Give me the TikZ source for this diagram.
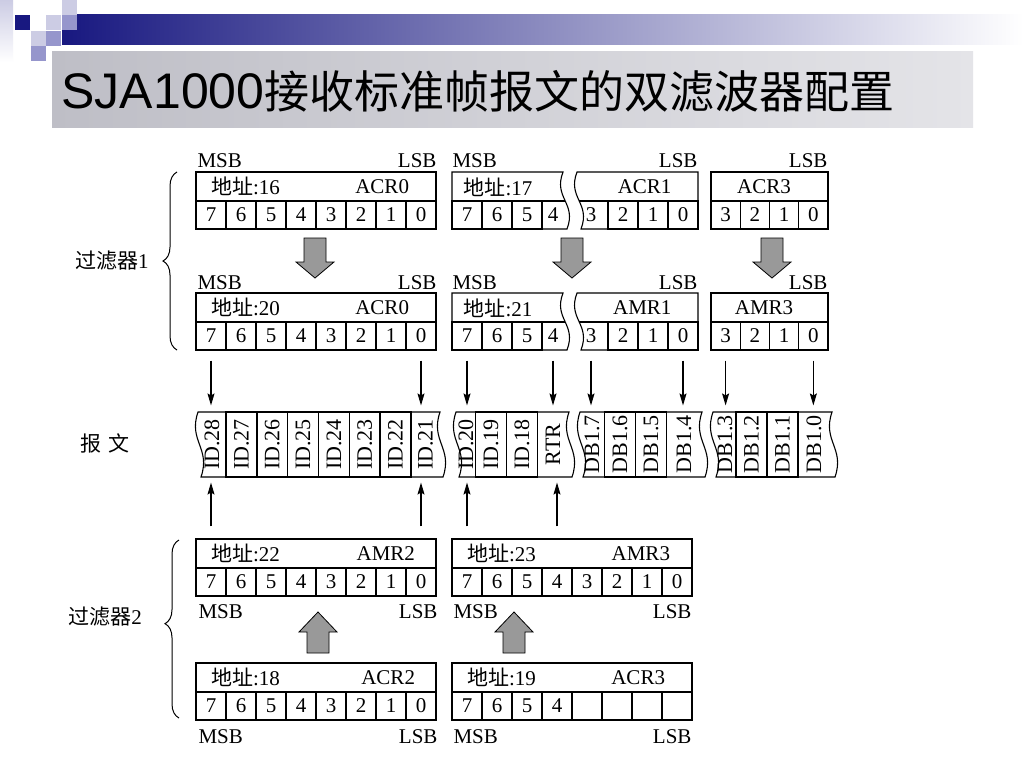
\documentclass[tikz,border=0pt]{standalone}
\usepackage{fontspec}
\usepackage{graphicx}
\setmainfont{Liberation Serif}
\newfontfamily\cjk{Noto Sans CJK SC}
\newfontfamily\headfont{Liberation Sans}
\usetikzlibrary{positioning,calc,arrows.meta,decorations.pathreplacing}
\definecolor{barblue}{RGB}{24,24,128}
\definecolor{lightsq}{RGB}{204,204,228}
\definecolor{midsq}{RGB}{150,150,204}
\definecolor{titlel}{RGB}{190,190,198}
\definecolor{titler}{RGB}{228,228,232}

\begin{document}
\begin{tikzpicture}[x=1pt, y=-1pt, line width=1.1pt,
          bit/.style={draw, minimum width=30pt, minimum height=28pt, inner sep=0pt, font=\fontsize{21}{21}\selectfont},
          bitt/.style={bit, draw=none},
          nib/.style={bit, minimum width=29.25pt},
          namebox/.style={draw, minimum height=29pt, inner sep=0pt},
          lbl/.style={inner sep=0pt, font=\fontsize{21}{21}\selectfont},
          msg/.style={minimum width=31pt, minimum height=65pt, inner sep=0pt, font=\fontsize{22}{22}\selectfont},
          msgcell/.style={msg, draw},
          sig/.style={-{Stealth[length=12pt, width=7pt, inset=2pt]}, line width=1.2pt},
          fat/.style={draw, fill=black!40, line width=0.8pt, line join=miter},
          node distance = 30pt]
          \useasboundingbox (0,0) rectangle (1024,768);
          \fill[white] (0,0) rectangle (1024,768);
          \shade[top color=lightsq, bottom color=white] (0,0) rectangle (13,62);
          \shade[left color=barblue, right color=white] (62,15) rectangle (1024,45);
          \fill[barblue] (15,15) rectangle (30,30);
          \fill[lightsq] (62,0) rectangle (77,15);
          \fill[lightsq] (46,15) rectangle (61,30);
          \fill[lightsq] (31,31) rectangle (46,46);
          \fill[midsq] (62,15) rectangle (77,30);
          \fill[midsq] (46,31) rectangle (61,46);
          \fill[midsq] (31,46) rectangle (46,61);
          \shade[left color=titlel, right color=titler] (52,52) rectangle (973,127);
          \node[anchor=base west, inner sep=0pt] (title) at (61,108) {\headfont\fontsize{50}{50}\selectfont SJA1000{\cjk\fontsize{45}{45}\selectfont 接收标准帧报文的双滤波器配置}};

          \node[namebox, minimum width=240pt] (acr0) at (316,186.5) {};
          \node[lbl] (acr0-adr) [right=15pt of acr0.west] {{\cjk 地址}:16};
          \node[lbl] (acr0-reg) [left=27pt of acr0.east]  {ACR0};
          \node[bit] (acr0-7) at (211,215)          {7};
          \node[bit] (acr0-6) [right of = acr0-7]   {6};
          \node[bit] (acr0-5) [right of = acr0-6]   {5};
          \node[bit] (acr0-4) [right of = acr0-5]   {4};
          \node[bit] (acr0-3) [right of = acr0-4]   {3};
          \node[bit] (acr0-2) [right of = acr0-3]   {2};
          \node[bit] (acr0-1) [right of = acr0-2]   {1};
          \node[bit] (acr0-0) [right of = acr0-1]   {0};
          \draw (452,172) -- (563,172) .. controls +(-10,26) and +(10,-26) .. (567,229) -- (452,229) -- cycle;
          \draw (452,201) -- (565,201);
          \draw (577,172) -- (698,172) -- (698,229) -- (581,229) .. controls +(10,-26) and +(-10,26) .. cycle;
          \draw (579,201) -- (698,201);
          \node[lbl, anchor=west] (acr1-adr) at (463,187) {{\cjk 地址}:17};
          \node[lbl, anchor=east] (acr1-reg) at (672,187) {ACR1};
          \node[bit]  (acr1-7) at (467,215)         {7};
          \node[bit]  (acr1-6) [right of = acr1-7]  {6};
          \node[bit]  (acr1-5) [right of = acr1-6]  {5};
          \node[bitt] (acr1-4) at (553,215)         {4};
          \node[bitt] (acr1-3) at (591,215)         {3};
          \node[bit]  (acr1-2) at (623,215)         {2};
          \node[bit]  (acr1-1) [right of = acr1-2]  {1};
          \node[bit]  (acr1-0) [right of = acr1-1]  {0};
          \node[namebox, minimum width=117pt] (acr3a) at (769.5,186.5) {};
          \node[lbl] (acr3a-reg) at (764,187) {ACR3};
          \node[nib] (acr3a-3) at (725.6,215) {3};
          \node[nib, node distance=29.25pt, right of = acr3a-3] (acr3a-2) {2};
          \node[nib, node distance=29.25pt, right of = acr3a-2] (acr3a-1) {1};
          \node[nib, node distance=29.25pt, right of = acr3a-1] (acr3a-0) {0};
          \node[lbl, anchor=west] (msb-a0) at (197,161) {MSB};
          \node[lbl, anchor=east] (lsb-a0) at (437,161) {LSB};
          \node[lbl, anchor=west] (msb-a1) at (452,161) {MSB};
          \node[lbl, anchor=east] (lsb-a1) at (698,161) {LSB};
          \node[lbl, anchor=east] (lsb-a3) at (828,161) {LSB};

          \draw[fat] (304,238) -- ++(22,0) -- ++(0,24) -- ++(8,0) -- ++(-19,16) -- ++(-19,-16) -- ++(8,0) -- cycle;
          \draw[fat] (561,238) -- ++(22,0) -- ++(0,24) -- ++(8,0) -- ++(-19,16) -- ++(-19,-16) -- ++(8,0) -- cycle;
          \draw[fat] (761,238) -- ++(22,0) -- ++(0,24) -- ++(8,0) -- ++(-19,16) -- ++(-19,-16) -- ++(8,0) -- cycle;

          \node[namebox, minimum width=240pt] (amr0) at (316,307.5) {};
          \node[lbl] (amr0-adr) [right=15pt of amr0.west] {{\cjk 地址}:20};
          \node[lbl] (amr0-reg) [left=27pt of amr0.east]  {ACR0};
          \node[bit] (amr0-7) at (211,336)          {7};
          \node[bit] (amr0-6) [right of = amr0-7]   {6};
          \node[bit] (amr0-5) [right of = amr0-6]   {5};
          \node[bit] (amr0-4) [right of = amr0-5]   {4};
          \node[bit] (amr0-3) [right of = amr0-4]   {3};
          \node[bit] (amr0-2) [right of = amr0-3]   {2};
          \node[bit] (amr0-1) [right of = amr0-2]   {1};
          \node[bit] (amr0-0) [right of = amr0-1]   {0};
          \draw (452,293) -- (563,293) .. controls +(-10,26) and +(10,-26) .. (567,350) -- (452,350) -- cycle;
          \draw (452,322) -- (565,322);
          \draw (577,293) -- (698,293) -- (698,350) -- (581,350) .. controls +(10,-26) and +(-10,26) .. cycle;
          \draw (579,322) -- (698,322);
          \node[lbl, anchor=west] (amr1-adr) at (463,308) {{\cjk 地址}:21};
          \node[lbl, anchor=east] (amr1-reg) at (672,308) {AMR1};
          \node[bit]  (amr1-7) at (467,336)         {7};
          \node[bit]  (amr1-6) [right of = amr1-7]  {6};
          \node[bit]  (amr1-5) [right of = amr1-6]  {5};
          \node[bitt] (amr1-4) at (553,336)         {4};
          \node[bitt] (amr1-3) at (591,336)         {3};
          \node[bit]  (amr1-2) at (623,336)         {2};
          \node[bit]  (amr1-1) [right of = amr1-2]  {1};
          \node[bit]  (amr1-0) [right of = amr1-1]  {0};
          \node[namebox, minimum width=117pt] (amr3a) at (769.5,307.5) {};
          \node[lbl] (amr3a-reg) at (764,308) {AMR3};
          \node[nib] (amr3a-3) at (725.6,336) {3};
          \node[nib, node distance=29.25pt, right of = amr3a-3] (amr3a-2) {2};
          \node[nib, node distance=29.25pt, right of = amr3a-2] (amr3a-1) {1};
          \node[nib, node distance=29.25pt, right of = amr3a-1] (amr3a-0) {0};
          \node[lbl, anchor=west] (msb-b0) at (197,283) {MSB};
          \node[lbl, anchor=east] (lsb-b0) at (437,283) {LSB};
          \node[lbl, anchor=west] (msb-b1) at (452,283) {MSB};
          \node[lbl, anchor=east] (lsb-b1) at (698,283) {LSB};
          \node[lbl, anchor=east] (lsb-b3) at (828,283) {LSB};

          \draw (198,412) -- (440,412) .. controls +(-10,29) and +(10,-29) .. (443,477) -- (201,477) .. controls +(10,-29) and +(-10,29) .. cycle;
          \draw (456,412) -- (569,412) .. controls +(-10,29) and +(10,-29) .. (572,477) -- (459,477) .. controls +(10,-29) and +(-10,29) .. cycle;
          \draw (580,412) -- (702,412) .. controls +(-10,29) and +(10,-29) .. (705,477) -- (583,477) .. controls +(10,-29) and +(-10,29) .. cycle;
          \draw (713,412) -- (832,412) .. controls +(-10,29) and +(10,-29) .. (835,477) -- (716,477) .. controls +(10,-29) and +(-10,29) .. cycle;
          \node[msg]     (id28) at (212,444.5)   {\rotatebox{90}{ID.28}};
          \node[msgcell] (id27) at (241.5,444.5) {\rotatebox{90}{ID.27}};
          \node[msgcell] (id26) at (272.3,444.5) {\rotatebox{90}{ID.26}};
          \node[msgcell] (id25) at (303.1,444.5) {\rotatebox{90}{ID.25}};
          \node[msgcell] (id24) at (333.9,444.5) {\rotatebox{90}{ID.24}};
          \node[msgcell] (id23) at (364.7,444.5) {\rotatebox{90}{ID.23}};
          \node[msgcell] (id22) at (395.5,444.5) {\rotatebox{90}{ID.22}};
          \node[msg]     (id21) at (425.5,444.5) {\rotatebox{90}{ID.21}};
          \node[msg]     (id20) at (466,444.5)   {\rotatebox{90}{ID.20}};
          \node[msgcell] (id19) at (491,444.5)   {\rotatebox{90}{ID.19}};
          \node[msgcell] (id18) at (522,444.5)   {\rotatebox{90}{ID.18}};
          \node[msg]     (rtr)  at (553,444.5)   {\rotatebox{90}{RTR}};
          \node[msg]     (db17) at (592,444.5)   {\rotatebox{90}{DB1.7}};
          \node[msgcell] (db16) at (620,444.5)   {\rotatebox{90}{DB1.6}};
          \node[msgcell] (db15) at (651,444.5)   {\rotatebox{90}{DB1.5}};
          \node[msg]     (db14) at (684,444.5)   {\rotatebox{90}{DB1.4}};
          \node[msg]     (db13) at (725,444.5)   {\rotatebox{90}{DB1.3}};
          \node[msgcell] (db12) at (751.5,444.5) {\rotatebox{90}{DB1.2}};
          \node[msgcell] (db11) at (782.5,444.5) {\rotatebox{90}{DB1.1}};
          \node[msg]     (db10) at (814,444.5)   {\rotatebox{90}{DB1.0}};

          \node[namebox, minimum width=240pt] (amr2) at (316,553.5) {};
          \node[lbl] (amr2-adr) [right=15pt of amr2.west] {{\cjk 地址}:22};
          \node[lbl] (amr2-reg) [left=21pt of amr2.east]  {AMR2};
          \node[bit] (amr2-7) at (211,582)          {7};
          \node[bit] (amr2-6) [right of = amr2-7]   {6};
          \node[bit] (amr2-5) [right of = amr2-6]   {5};
          \node[bit] (amr2-4) [right of = amr2-5]   {4};
          \node[bit] (amr2-3) [right of = amr2-4]   {3};
          \node[bit] (amr2-2) [right of = amr2-3]   {2};
          \node[bit] (amr2-1) [right of = amr2-2]   {1};
          \node[bit] (amr2-0) [right of = amr2-1]   {0};
          \node[namebox, minimum width=240pt] (amr3b) at (572,553.5) {};
          \node[lbl] (amr3b-adr) [right=15pt of amr3b.west] {{\cjk 地址}:23};
          \node[lbl] (amr3b-reg) [left=22pt of amr3b.east]  {AMR3};
          \node[bit] (amr3b-7) at (467,582)         {7};
          \node[bit] (amr3b-6) [right of = amr3b-7] {6};
          \node[bit] (amr3b-5) [right of = amr3b-6] {5};
          \node[bit] (amr3b-4) [right of = amr3b-5] {4};
          \node[bit] (amr3b-3) [right of = amr3b-4] {3};
          \node[bit] (amr3b-2) [right of = amr3b-3] {2};
          \node[bit] (amr3b-1) [right of = amr3b-2] {1};
          \node[bit] (amr3b-0) [right of = amr3b-1] {0};
          \node[lbl, anchor=west] (msb-c0) at (198,612) {MSB};
          \node[lbl, anchor=east] (lsb-c0) at (438,612) {LSB};
          \node[lbl, anchor=west] (msb-c1) at (453,612) {MSB};
          \node[lbl, anchor=east] (lsb-c1) at (692,612) {LSB};

          \draw[fat] (307,653) -- ++(22,0) -- ++(0,-21) -- ++(8,0) -- ++(-19,-20) -- ++(-19,20) -- ++(8,0) -- cycle;
          \draw[fat] (503,653) -- ++(22,0) -- ++(0,-21) -- ++(8,0) -- ++(-19,-20) -- ++(-19,20) -- ++(8,0) -- cycle;

          \node[namebox, minimum width=240pt] (acr2) at (316,677.5) {};
          \node[lbl] (acr2-adr) [right=15pt of acr2.west] {{\cjk 地址}:18};
          \node[lbl] (acr2-reg) [left=21pt of acr2.east]  {ACR2};
          \node[bit] (acr2-7) at (211,706)          {7};
          \node[bit] (acr2-6) [right of = acr2-7]   {6};
          \node[bit] (acr2-5) [right of = acr2-6]   {5};
          \node[bit] (acr2-4) [right of = acr2-5]   {4};
          \node[bit] (acr2-3) [right of = acr2-4]   {3};
          \node[bit] (acr2-2) [right of = acr2-3]   {2};
          \node[bit] (acr2-1) [right of = acr2-2]   {1};
          \node[bit] (acr2-0) [right of = acr2-1]   {0};
          \node[namebox, minimum width=240pt] (acr3b) at (572,677.5) {};
          \node[lbl] (acr3b-adr) [right=15pt of acr3b.west] {{\cjk 地址}:19};
          \node[lbl] (acr3b-reg) [left=27pt of acr3b.east]  {ACR3};
          \node[bit] (acr3b-7) at (467,706)         {7};
          \node[bit] (acr3b-6) [right of = acr3b-7] {6};
          \node[bit] (acr3b-5) [right of = acr3b-6] {5};
          \node[bit] (acr3b-4) [right of = acr3b-5] {4};
          \node[bit] (acr3b-3) [right of = acr3b-4] {};
          \node[bit] (acr3b-2) [right of = acr3b-3] {};
          \node[bit] (acr3b-1) [right of = acr3b-2] {};
          \node[bit] (acr3b-0) [right of = acr3b-1] {};
          \node[lbl, anchor=west] (msb-d0) at (198,737) {MSB};
          \node[lbl, anchor=east] (lsb-d0) at (438,737) {LSB};
          \node[lbl, anchor=west] (msb-d1) at (453,737) {MSB};
          \node[lbl, anchor=east] (lsb-d1) at (692,737) {LSB};

          \draw[decorate, decoration={brace, amplitude=14pt}, line width=1pt] (177,350) -- (177,172)
               node[lbl, midway, left=28pt] (filter1) {{\cjk 过滤器}1};
          \draw[decorate, decoration={brace, amplitude=14pt, aspect=0.53}, line width=1pt] (179,718) -- (179,540);
          \node[lbl] (filter2) at (105,617) {{\cjk 过滤器}2};
          \node[lbl] (frame) at (105,443) {{\cjk 报\hspace{8pt}文}};

        \path
          ($(amr0-7.south)+(0,10)$)  edge[sig] ($(amr0-7.south |- id28.north)+(0,-6)$)
          ($(amr0-0.south)+(0,10)$)  edge[sig] ($(amr0-0.south |- id21.north)+(0,-6)$)
          ($(amr1-7.south)+(0,10)$)  edge[sig] ($(amr1-7.south |- id20.north)+(0,-6)$)
          ($(amr1-4.south)+(0,10)$)  edge[sig] ($(amr1-4.south |- rtr.north)+(0,-6)$)
          ($(amr1-3.south)+(0,10)$)  edge[sig] ($(amr1-3.south |- db17.north)+(0,-6)$)
          ($(amr1-0.south)+(0,10)$)  edge[sig] ($(amr1-0.south |- db14.north)+(0,-6)$)
          ($(amr3a-3.south)+(0,10)$) edge[sig] ($(amr3a-3.south |- db13.north)+(0,-6)$)
          ($(amr3a-0.south)+(0,10)$) edge[sig] ($(amr3a-0.south |- db10.north)+(0,-6)$)
          ($(amr2-7 |- amr2.north)+(0,-12)$)   edge[sig] ($(amr2-7 |- id28.south)+(0,5)$)
          ($(amr2-0 |- amr2.north)+(0,-12)$)   edge[sig] ($(amr2-0 |- id21.south)+(0,5)$)
          ($(amr3b-7 |- amr3b.north)+(0,-12)$) edge[sig] ($(amr3b-7 |- id20.south)+(0,5)$)
          ($(amr3b-4 |- amr3b.north)+(0,-12)$) edge[sig] ($(amr3b-4 |- rtr.south)+(0,5)$)
          ;
      \end{tikzpicture}
\end{document}
